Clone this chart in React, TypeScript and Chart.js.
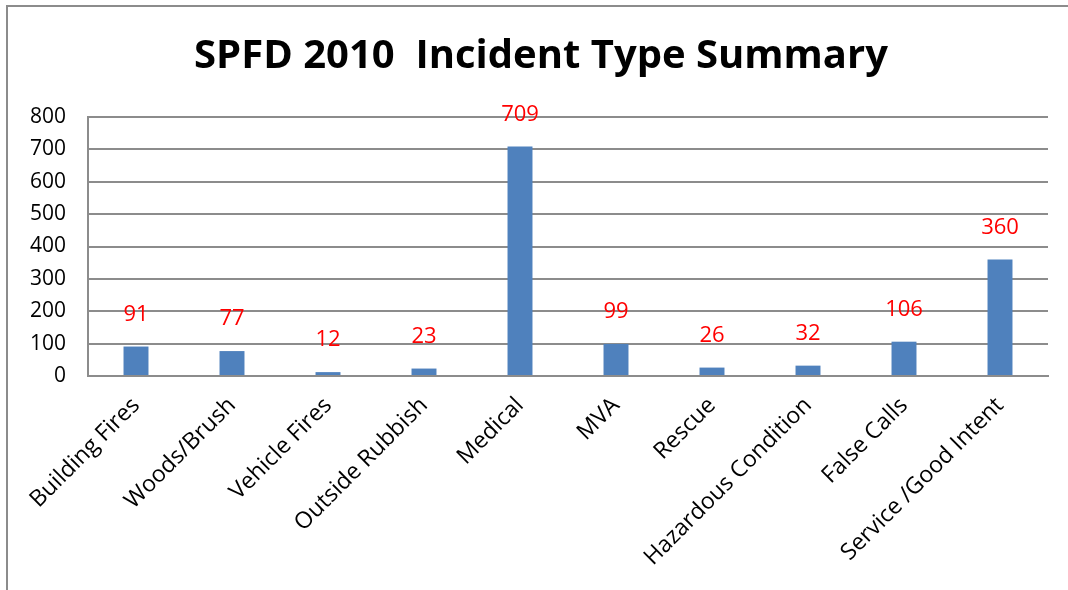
import React, { useEffect, useRef } from "react";
import { Chart, registerables } from "chart.js";

Chart.register(...registerables);

const categories = [
  "Building Fires",
  "Woods/Brush",
  "Vehicle Fires",
  "Outside Rubbish",
  "Medical",
  "MVA",
  "Rescue",
  "Hazardous Condition",
  "False Calls",
  "Service /Good Intent",
];
const incidents = [91, 77, 12, 23, 709, 99, 26, 32, 106, 360];
const titleText = "SPFD 2010  Incident Type Summary";

const FONT = "'Open Sans', 'Liberation Sans', sans-serif";

const frameAndLabels = {
  id: "frameAndLabels",
  afterDatasetsDraw(chart: any) {
    const { ctx } = chart;
    const meta = chart.getDatasetMeta(0);
    ctx.save();
    ctx.fillStyle = "#ff0000";
    ctx.font = `22px ${FONT}`;
    ctx.textAlign = "center";
    ctx.textBaseline = "middle";
    meta.data.forEach((bar: any, i: number) => {
      ctx.fillText(String(incidents[i]), bar.x, bar.y - 32);
    });
    ctx.restore();
  },
  afterDraw(chart: any) {
    const { ctx } = chart;
    ctx.save();
    ctx.fillStyle = "#000";
    ctx.font = `bold 40px ${FONT}`;
    ctx.textAlign = "center";
    ctx.textBaseline = "middle";
    ctx.fillText(titleText, 541, 57);
    ctx.strokeStyle = "#8c8c8c";
    ctx.lineWidth = 2;
    ctx.beginPath();
    ctx.moveTo(7, 590);
    ctx.lineTo(7, 6);
    ctx.lineTo(1068, 6);
    ctx.stroke();
    ctx.restore();
  },
};

export default function App() {
  const ref = useRef<HTMLCanvasElement>(null);
  useEffect(() => {
    if (!ref.current) return;
    const chart = new Chart(ref.current, {
      type: "bar",
      data: {
        labels: categories,
        datasets: [
          {
            data: incidents,
            backgroundColor: "#4f81bd",
            categoryPercentage: 1,
            barPercentage: 0.26,
          },
        ],
      },
      options: {
        animation: false,
        responsive: false,
        maintainAspectRatio: false,
        layout: { padding: { left: 0, right: 20, top: 117, bottom: 0 } },
        plugins: {
          legend: { display: false },
          tooltip: { enabled: false },
          title: { display: false },
        },
        scales: {
          x: {
            grid: { display: false, drawTicks: false },
            border: { display: true, color: "#8c8c8c", width: 2 },
            ticks: {
              color: "#000",
              font: { family: FONT, size: 23 },
              minRotation: 45,
              maxRotation: 45,
              autoSkip: false,
              padding: 16,
            },
            afterFit(scale: any) {
              scale.height = 214;
            },
          },
          y: {
            min: 0,
            max: 800,
            grid: { color: "#8c8c8c", lineWidth: 2, drawTicks: false },
            border: { display: true, color: "#8c8c8c", width: 2 },
            ticks: {
              stepSize: 100,
              color: "#000",
              font: { family: FONT, size: 21 },
              padding: 22,
            },
            afterFit(scale: any) {
              scale.width = 88;
            },
          },
        },
      },
      plugins: [frameAndLabels],
    });
    return () => chart.destroy();
  }, []);
  return (
    <div style={{ position: "fixed", left: 0, top: 0, width: 1068, height: 590, background: "#fff" }}>
      <canvas ref={ref} width={1068} height={590} />
    </div>
  );
}
